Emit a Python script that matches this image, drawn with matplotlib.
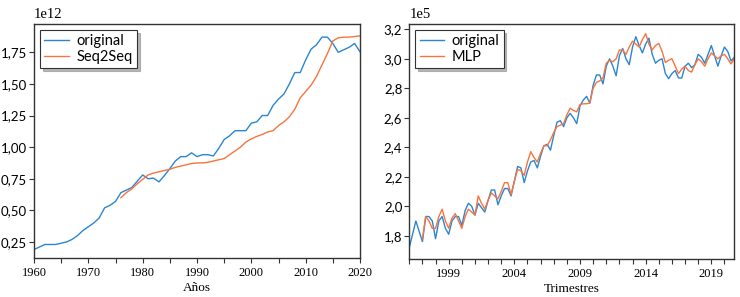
import numpy as np
import matplotlib.pyplot as plt
from matplotlib.ticker import FixedLocator, MultipleLocator, FuncFormatter

# Annual series (left panel), values in units of 1e12
anios = np.arange(1960, 2021)
original_anual = [0.19, 0.21, 0.23, 0.23, 0.23, 0.24, 0.25, 0.27, 0.30, 0.34,
                  0.37, 0.40, 0.44, 0.52, 0.54, 0.57, 0.64, 0.66, 0.68, 0.73,
                  0.78, 0.75, 0.755, 0.725, 0.775, 0.83, 0.89, 0.925, 0.925, 0.955,
                  0.925, 0.94, 0.94, 0.93, 0.99, 1.06, 1.09, 1.13, 1.13, 1.13,
                  1.19, 1.20, 1.25, 1.25, 1.33, 1.38, 1.42, 1.50, 1.59, 1.59,
                  1.69, 1.775, 1.81, 1.87, 1.87, 1.82, 1.75, 1.77, 1.79, 1.82,
                  1.755]
anios_s2s = np.arange(1976, 2021)
seq2seq = [0.60, 0.64, 0.67, 0.71, 0.745, 0.78, 0.795, 0.805, 0.815, 0.825,
           0.84, 0.85, 0.86, 0.87, 0.875, 0.875, 0.88, 0.89, 0.90, 0.91,
           0.94, 0.97, 1.00, 1.04, 1.065, 1.085, 1.10, 1.12, 1.13, 1.17,
           1.20, 1.24, 1.30, 1.39, 1.44, 1.49, 1.56, 1.65, 1.74, 1.84,
           1.865, 1.87, 1.87, 1.875, 1.88]

# Quarterly series (right panel), 1996Q1 - 2020Q4, values in units of 1e5
original_trim = [1.72, 1.81, 1.90, 1.83, 1.76, 1.93, 1.93, 1.90, 1.78, 1.90,
                 1.93, 1.85, 1.81, 1.90, 1.93, 1.93, 1.87, 1.97, 2.02, 2.00,
                 1.94, 2.02, 1.99, 1.96, 2.04, 2.11, 2.11, 2.01, 2.07, 2.12,
                 2.12, 2.07, 2.17, 2.27, 2.26, 2.16, 2.24, 2.30, 2.31, 2.26,
                 2.34, 2.41, 2.42, 2.38, 2.48, 2.57, 2.58, 2.54, 2.60, 2.63,
                 2.60, 2.56, 2.68, 2.72, 2.745, 2.70, 2.82, 2.89, 2.89, 2.83,
                 2.95, 3.00, 2.95, 2.885, 3.02, 3.07, 3.00, 2.96, 3.08, 3.15,
                 3.09, 3.04, 3.10, 3.14, 3.03, 2.97, 2.99, 3.00, 2.90, 2.865,
                 2.90, 2.92, 2.87, 2.87, 2.95, 2.97, 2.94, 2.96, 3.03, 3.01,
                 2.97, 3.03, 3.09, 3.02, 2.95, 3.02, 3.08, 3.05, 2.985, 3.01]
mlp = [1.78, 1.93, 1.90, 1.85, 1.85, 1.93, 1.98, 1.90, 1.85, 1.92,
       1.95, 1.90, 1.85, 1.93, 1.98, 1.96, 1.94, 2.07, 2.02, 1.98,
       2.04, 2.09, 2.07, 2.05, 2.10, 2.16, 2.16, 2.08, 2.17, 2.25,
       2.24, 2.21, 2.30, 2.37, 2.33, 2.30, 2.36, 2.41, 2.41, 2.45,
       2.50, 2.54, 2.55, 2.56, 2.62, 2.665, 2.65, 2.64, 2.69, 2.695,
       2.695, 2.70, 2.80, 2.84, 2.85, 2.87, 2.97, 2.99, 2.98, 3.00,
       3.06, 3.06, 3.03, 3.08, 3.12, 3.10, 3.08, 3.13, 3.17, 3.10,
       3.06, 3.09, 3.105, 3.05, 2.975, 2.99, 3.00, 2.95, 2.90, 2.93,
       2.95, 2.92, 2.91, 2.96, 3.00, 2.98, 2.95, 3.00, 3.04, 3.02,
       3.00, 3.02, 3.03, 3.00, 2.965, 3.00]
trimestres = 1996 + np.arange(len(original_trim)) / 4
trimestres_mlp = trimestres[len(original_trim) - len(mlp):]
anios_etiquetas = [1999, 2004, 2009, 2014, 2019]

azul = '#2a86d3'
naranja = '#f7743f'
sans = ['Lato', 'DejaVu Sans']
serif = ['Liberation Serif', 'DejaVu Serif']

fig = plt.figure(figsize=(7.4, 2.97), dpi=100)
ax1 = fig.add_axes([34 / 740, 1 - 258 / 297, 326 / 740, 234 / 297])
ax2 = fig.add_axes([409.3 / 740, 1 - 259 / 297, 325 / 740, 235 / 297])


def coma(dec):
    return FuncFormatter(lambda v, p: f'{v:.{dec}f}'.replace('.', ','))


# Left: annual
ax1.plot(anios, original_anual, color=azul, lw=1, label='original')
ax1.plot(anios_s2s, seq2seq, color=naranja, lw=1, label='Seq2Seq')
ax1.set_xlim(1960, 2020)
ax1.set_ylim(0.123, 1.974)
ax1.xaxis.set_major_locator(MultipleLocator(10))
ax1.xaxis.set_minor_locator(MultipleLocator(5))
ax1.yaxis.set_major_locator(MultipleLocator(0.25))
ax1.yaxis.set_major_formatter(coma(2))
ax1.set_xlabel('Años', family=serif, fontsize=9.5, labelpad=2)
ax1.text(0, 1.012, '1e12', transform=ax1.transAxes, family=serif, fontsize=10.5,
         va='bottom', ha='left')

# Right: quarterly
ax2.plot(trimestres, original_trim, color=azul, lw=1, label='original')
ax2.plot(trimestres_mlp, mlp, color=naranja, lw=1, label='MLP')
ax2.set_xlim(trimestres[0], trimestres[-1])
ax2.set_ylim(1.642, 3.236)
ax2.xaxis.set_major_locator(FixedLocator(anios_etiquetas))
ax2.xaxis.set_minor_locator(MultipleLocator(1))
ax2.yaxis.set_major_locator(MultipleLocator(0.2))
ax2.yaxis.set_major_formatter(coma(1))
ax2.set_xlabel('Trimestres', family=serif, fontsize=9.5, labelpad=2)
ax2.text(0, 1.012, '1e5', transform=ax2.transAxes, family=serif, fontsize=10.5,
         va='bottom', ha='left')

for ax in (ax1, ax2):
    for s in ax.spines.values():
        s.set_color('#333333')
        s.set_linewidth(1)
    ax.tick_params(which='both', direction='out', length=3.5, width=0.8, color='#333333')
    ax.tick_params(axis='x', labelsize=9, pad=3)
    ax.tick_params(axis='y', labelsize=9.5, pad=1.5)
    for lab in ax.get_xticklabels():
        lab.set_family(serif)
    for lab in ax.get_yticklabels():
        lab.set_family(sans)
    leg = ax.legend(loc='upper left', prop={'family': sans, 'size': 10.5}, fancybox=False,
                    shadow={'color': '0.6', 'alpha': 0.7}, borderaxespad=0.4,
                    handlelength=1.7, handletextpad=0.5, labelspacing=0.1,
                    borderpad=0.3)
    leg.get_frame().set_edgecolor('#333333')
    leg.get_frame().set_linewidth(0.8)

plt.savefig('out.png', dpi=100)
